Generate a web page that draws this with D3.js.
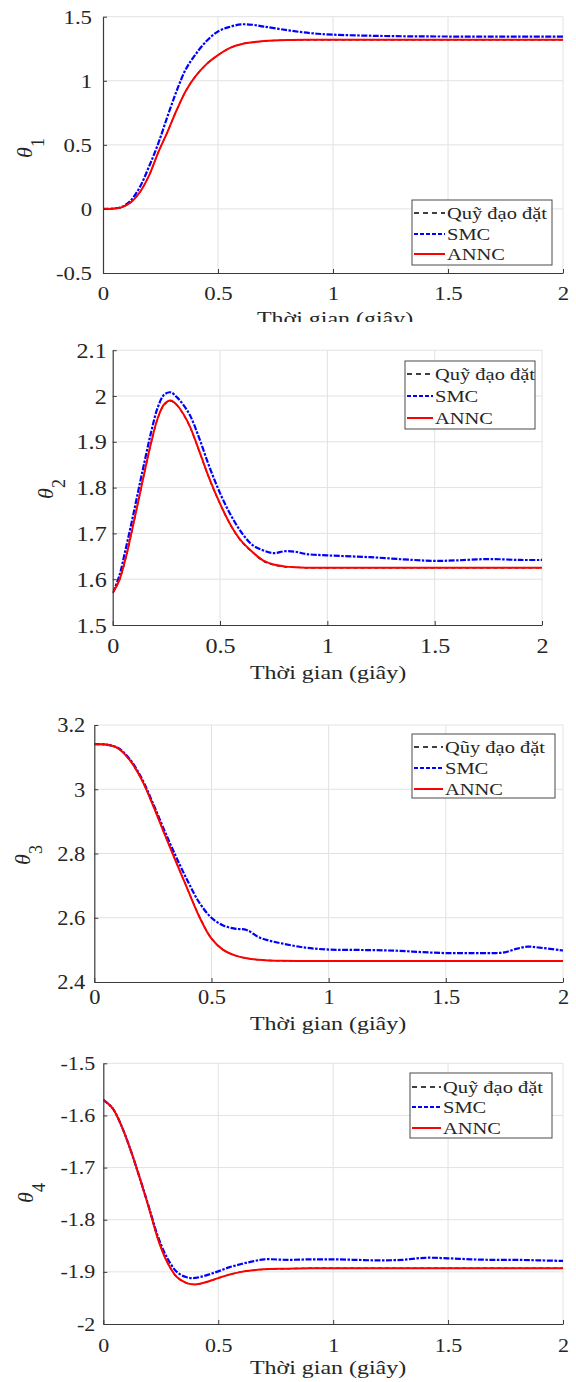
<!DOCTYPE html>
<html>
<head>
<meta charset="utf-8">
<script src="https://cdn.jsdelivr.net/npm/d3@7"></script>
<style>
body { margin: 0; background: #fff; }
svg { display: block; }
text { font-family: "Liberation Serif", "Times New Roman", serif; fill: #262626; }
</style>
</head>
<body>
<script>
// time samples (s) for each joint
var t1 = [0, 0.04, 0.08, 0.12, 0.16, 0.2, 0.24, 0.28, 0.32, 0.36, 0.4, 0.45, 0.5, 0.55, 0.6, 0.65, 0.7, 0.8, 0.9, 1.0, 1.2, 1.4, 1.6, 1.8, 2.0];
var ref1 = [0, 0.002, 0.012, 0.05, 0.13, 0.26, 0.44, 0.6, 0.77, 0.92, 1.03, 1.13, 1.2, 1.255, 1.285, 1.3, 1.31, 1.318, 1.32, 1.32, 1.32, 1.32, 1.32, 1.32, 1.32];
var smc1 = [0, 0.002, 0.014, 0.065, 0.17, 0.33, 0.51, 0.72, 0.92, 1.09, 1.2, 1.31, 1.385, 1.42, 1.44, 1.437, 1.423, 1.395, 1.372, 1.36, 1.35, 1.346, 1.345, 1.344, 1.344];
var annc1 = [0, 0.002, 0.012, 0.05, 0.13, 0.26, 0.44, 0.6, 0.77, 0.92, 1.03, 1.13, 1.2, 1.255, 1.285, 1.3, 1.31, 1.318, 1.32, 1.32, 1.32, 1.32, 1.32, 1.32, 1.32];

var t2 = [0, 0.03, 0.06, 0.09, 0.12, 0.15, 0.18, 0.21, 0.24, 0.27, 0.3, 0.33, 0.36, 0.4, 0.45, 0.5, 0.55, 0.6, 0.65, 0.7, 0.75, 0.8, 0.85, 0.9, 1.0, 1.2, 1.4, 1.5, 1.6, 1.75, 1.9, 2.0];
var ref2 = [1.57, 1.596, 1.644, 1.706, 1.771, 1.837, 1.899, 1.951, 1.981, 1.989, 1.979, 1.959, 1.932, 1.883, 1.819, 1.764, 1.717, 1.682, 1.659, 1.64, 1.631, 1.627, 1.626, 1.625, 1.625, 1.625, 1.625, 1.625, 1.625, 1.625, 1.625, 1.625];
var smc2 = [1.57, 1.606, 1.665, 1.728, 1.795, 1.86, 1.923, 1.975, 2.003, 2.008, 1.997, 1.98, 1.958, 1.912, 1.846, 1.788, 1.74, 1.702, 1.675, 1.663, 1.657, 1.661, 1.66, 1.655, 1.652, 1.648, 1.642, 1.64, 1.641, 1.644, 1.642, 1.642];
var annc2 = [1.57, 1.597, 1.645, 1.707, 1.772, 1.838, 1.9, 1.952, 1.982, 1.99, 1.98, 1.96, 1.933, 1.884, 1.82, 1.765, 1.718, 1.683, 1.66, 1.641, 1.632, 1.628, 1.626, 1.625, 1.625, 1.625, 1.625, 1.625, 1.625, 1.625, 1.625, 1.625];

var t3 = [0, 0.05, 0.1, 0.15, 0.2, 0.25, 0.3, 0.35, 0.4, 0.45, 0.5, 0.55, 0.6, 0.65, 0.7, 0.75, 0.8, 0.9, 1.0, 1.1, 1.2, 1.3, 1.4, 1.5, 1.6, 1.7, 1.75, 1.8, 1.85, 1.9, 2.0];
var ref3 = [3.14, 3.139, 3.128, 3.092, 3.033, 2.951, 2.86, 2.772, 2.685, 2.602, 2.536, 2.5, 2.483, 2.474, 2.469, 2.467, 2.466, 2.465, 2.465, 2.465, 2.465, 2.465, 2.465, 2.465, 2.465, 2.465, 2.465, 2.465, 2.465, 2.465, 2.465];
var smc3 = [3.14, 3.139, 3.129, 3.095, 3.037, 2.957, 2.87, 2.788, 2.712, 2.645, 2.6, 2.576, 2.566, 2.562, 2.54, 2.528, 2.52, 2.507, 2.501, 2.5, 2.499, 2.497, 2.493, 2.49, 2.49, 2.49, 2.492, 2.503, 2.51, 2.507, 2.498];
var annc3 = [3.14, 3.139, 3.128, 3.092, 3.033, 2.951, 2.86, 2.772, 2.685, 2.6, 2.535, 2.5, 2.483, 2.474, 2.469, 2.467, 2.466, 2.465, 2.465, 2.465, 2.465, 2.465, 2.465, 2.465, 2.465, 2.465, 2.465, 2.465, 2.465, 2.465, 2.465];

var t4 = [0, 0.04, 0.08, 0.12, 0.16, 0.2, 0.24, 0.28, 0.32, 0.36, 0.39, 0.42, 0.46, 0.5, 0.55, 0.6, 0.65, 0.7, 0.8, 0.9, 1.0, 1.1, 1.2, 1.3, 1.4, 1.5, 1.6, 1.7, 1.8, 1.9, 2.0];
var ref4 = [-1.57, -1.586, -1.621, -1.668, -1.722, -1.78, -1.84, -1.883, -1.91, -1.921, -1.924, -1.923, -1.918, -1.912, -1.905, -1.9, -1.897, -1.895, -1.894, -1.893, -1.893, -1.893, -1.893, -1.893, -1.893, -1.893, -1.893, -1.893, -1.893, -1.893, -1.893];
var smc4 = [-1.57, -1.586, -1.621, -1.668, -1.722, -1.778, -1.835, -1.875, -1.9, -1.91, -1.912, -1.91, -1.905, -1.899, -1.891, -1.885, -1.88, -1.876, -1.877, -1.876, -1.876, -1.877, -1.878, -1.877, -1.873, -1.874, -1.876, -1.877, -1.877, -1.878, -1.879];
var annc4 = [-1.57, -1.586, -1.621, -1.668, -1.722, -1.78, -1.84, -1.883, -1.91, -1.921, -1.924, -1.923, -1.918, -1.912, -1.905, -1.9, -1.897, -1.895, -1.894, -1.893, -1.893, -1.893, -1.893, -1.893, -1.893, -1.893, -1.893, -1.893, -1.893, -1.893, -1.893];

var xTicks = [0, 0.5, 1, 1.5, 2];
var yTicks1 = [-0.5, 0, 0.5, 1, 1.5];
var yTicks2 = [1.5, 1.6, 1.7, 1.8, 1.9, 2, 2.1];
var yTicks3 = [2.4, 2.6, 2.8, 3, 3.2];
var yTicks4 = [-2, -1.9, -1.8, -1.7, -1.6, -1.5];

var seriesNames = ["Quỹ đạo đặt", "SMC", "ANNC"];
var seriesNames3 = ["Qũy đạo đặt", "SMC", "ANNC"];
var xLabel = "Thời gian (giây)";

var styles = [
    { color: "#000", width: 1.3, dash: "4,3", legendDash: "5,4" },
    { color: "#0000ff", width: 2.2, dash: "6,1.5,2.5,1.5", legendDash: "4,2" },
    { color: "#ff0000", width: 2, dash: null, legendDash: null }
];

var panels = [
    { t: t1, ys: [ref1, smc1, annc1], yTicks: yTicks1, names: seriesNames, sub: "1",
      left: 103, right: 563, top: 16.7, bottom: 273, fs: 19, sx: 1.2, yGap: 11, xBase: 300,
      labX: 335, labY: 325, clipY: 322, thX: 32, thY: 148,
      leg: { x: 412, y: 200, w: 140, h: 65, rows: [213, 234, 254], lx: [414, 445], tx: 447 } },
    { t: t2, ys: [ref2, smc2, annc2], yTicks: yTicks2, names: seriesNames, sub: "2",
      left: 112.7, right: 542, top: 350.2, bottom: 625, fs: 21, sx: 1.15, yGap: 6, xBase: 653,
      labX: 328, labY: 679, clipY: null, thX: 53, thY: 489,
      leg: { x: 405, y: 361, w: 130, h: 68, rows: [374, 396, 418], lx: [407, 433], tx: 435 } },
    { t: t3, ys: [ref3, smc3, annc3], yTicks: yTicks3, names: seriesNames3, sub: "3",
      left: 94.3, right: 563, top: 725, bottom: 982, fs: 20, sx: 1.12, yGap: 9, xBase: 1004,
      labX: 328, labY: 1030, clipY: null, thX: 30, thY: 855,
      leg: { x: 412, y: 734, w: 143, h: 64, rows: [747, 768, 789], lx: [414, 443], tx: 445 } },
    { t: t4, ys: [ref4, smc4, annc4], yTicks: yTicks4, names: seriesNames, sub: "4",
      left: 103.3, right: 563, top: 1063.3, bottom: 1324, fs: 18, sx: 1.22, yGap: 8, xBase: 1352,
      labX: 328, labY: 1374, clipY: null, thX: 33, thY: 1193,
      leg: { x: 410, y: 1073, w: 142, h: 65, rows: [1087, 1107, 1128], lx: [412, 441], tx: 443 } }
];

var W = 576, H = 1382;
var svg = d3.select("body").append("svg").attr("width", W).attr("height", H);

var fmt = function (d) { return String(+d.toFixed(2)); };

panels.forEach(function (p, k) {
    var x = d3.scaleLinear().domain([0, 2]).range([p.left, p.right]),
        y = d3.scaleLinear().domain(d3.extent(p.yTicks)).range([p.bottom, p.top]);
    var g = svg.append("g").attr("class", "panel-" + k);

    // grid
    g.append("g").selectAll("line").data(xTicks.slice(1)).enter().append("line")
        .attr("x1", x).attr("x2", x).attr("y1", p.top).attr("y2", p.bottom)
        .attr("stroke", "#e2e2e2").attr("stroke-width", 1);
    g.append("g").selectAll("line").data(p.yTicks.slice(1)).enter().append("line")
        .attr("x1", p.left).attr("x2", p.right).attr("y1", y).attr("y2", y)
        .attr("stroke", "#e2e2e2").attr("stroke-width", 1);

    // curves
    var clipId = "clip" + k;
    svg.append("clipPath").attr("id", clipId).append("rect")
        .attr("x", p.left).attr("y", p.top - 2).attr("width", p.right - p.left + 2).attr("height", p.bottom - p.top + 2);
    var line = d3.line()
        .x(function (d) { return x(d[0]); })
        .y(function (d) { return y(d[1]); })
        .curve(d3.curveCatmullRom.alpha(0.5));
    p.ys.forEach(function (vals, s) {
        var st = styles[s];
        g.append("path")
            .datum(p.t.map(function (tv, i) { return [tv, vals[i]]; }))
            .attr("clip-path", "url(#" + clipId + ")")
            .attr("d", line)
            .attr("fill", "none")
            .attr("stroke", st.color)
            .attr("stroke-width", st.width)
            .attr("stroke-dasharray", st.dash);
    });

    // axes
    var xa = g.append("g").attr("transform", "translate(0," + p.bottom + ")")
        .call(d3.axisBottom(x).tickValues(xTicks).tickFormat(fmt).tickSizeInner(-4).tickSizeOuter(0));
    var ya = g.append("g").attr("transform", "translate(" + p.left + ",0)")
        .call(d3.axisLeft(y).tickValues(p.yTicks).tickFormat(fmt).tickSizeInner(-4).tickSizeOuter(0));
    [xa, ya].forEach(function (a) {
        a.attr("font-family", "Liberation Serif").attr("font-size", p.fs);
        a.select(".domain").attr("stroke", "#3a3a3a").attr("stroke-width", 1.2);
        a.selectAll(".tick line").attr("stroke", "#3a3a3a");
        a.selectAll("text").attr("fill", "#262626")
            .style("font-family", "'Liberation Serif', serif").style("font-size", p.fs + "px");
    });
    xa.selectAll(".tick text")
        .attr("y", p.xBase - p.bottom).attr("dy", 0)
        .attr("transform", "scale(" + p.sx + ",1)");
    ya.selectAll(".tick text")
        .attr("x", -p.yGap / p.sx).attr("dy", "0.34em")
        .attr("transform", "scale(" + p.sx + ",1)");

    // x label (first panel's label is cut off by the next figure)
    var holder = g;
    if (p.clipY) {
        var cid = "lab" + k;
        svg.append("clipPath").attr("id", cid).append("rect")
            .attr("x", 0).attr("y", 0).attr("width", W).attr("height", p.clipY);
        holder = g.append("g").attr("clip-path", "url(#" + cid + ")");
    }
    holder.append("text")
        .attr("text-anchor", "middle")
        .attr("transform", "translate(" + p.labX + "," + p.labY + ") scale(1.26,1)")
        .style("font-size", "19px")
        .text(xLabel);

    // y label
    var yl = g.append("text")
        .attr("text-anchor", "middle")
        .attr("transform", "translate(" + p.thX + "," + p.thY + ") rotate(-90)")
        .style("font-size", "22px");
    yl.append("tspan").style("font-style", "italic").text("θ");
    yl.append("tspan").attr("dy", 12).style("font-size", "18px").text(p.sub);

    // legend
    var L = p.leg;
    var lg = g.append("g");
    lg.append("rect").attr("x", L.x).attr("y", L.y).attr("width", L.w).attr("height", L.h)
        .attr("fill", "#fff").attr("stroke", "#4a4a4a").attr("stroke-width", 1);
    p.names.forEach(function (name, s) {
        var st = styles[s];
        lg.append("line")
            .attr("x1", L.lx[0]).attr("x2", L.lx[1]).attr("y1", L.rows[s]).attr("y2", L.rows[s])
            .attr("stroke", st.color).attr("stroke-width", st.width)
            .attr("stroke-dasharray", st.legendDash);
        lg.append("text")
            .attr("transform", "translate(" + L.tx + "," + L.rows[s] + ") scale(1.28,1)")
            .attr("dy", "0.35em")
            .style("font-size", "16px")
            .text(name);
    });
});
</script>
</body>
</html>
